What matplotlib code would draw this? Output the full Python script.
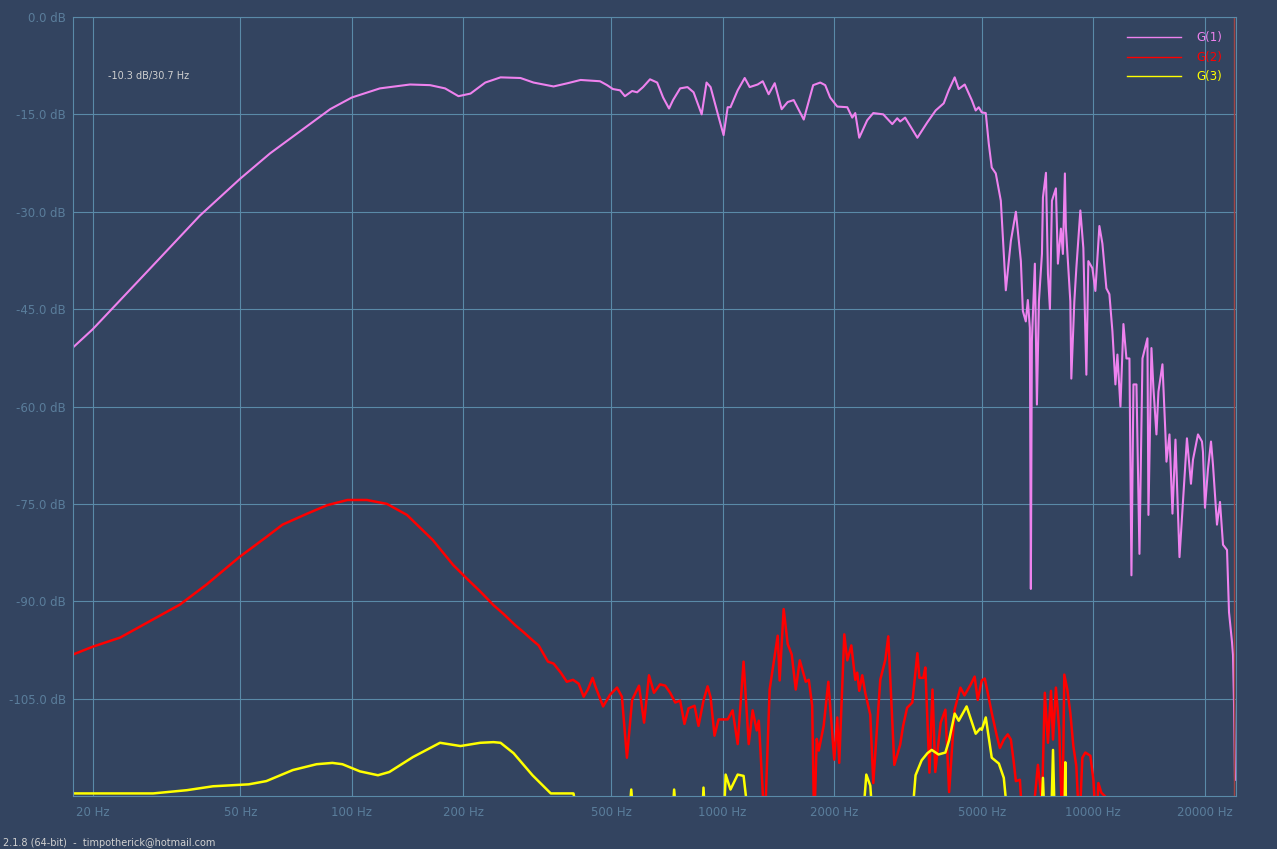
import matplotlib.pyplot as plt

# G(1) - fundamental
g1_freq = [17.7, 20, 28.5, 38.9, 50, 60.2, 72.5, 87.4, 100, 119, 143.5, 162.5, 178.4, 193.9, 208.9,
           229, 251.8, 285, 309, 350, 382, 414, 467, 488, 506, 529, 545, 570, 588, 610, 637, 666,
           691, 717, 735, 768, 804, 835, 878, 905, 928, 969, 1006, 1032, 1050, 1098, 1147, 1183,
           1243, 1283, 1331, 1382, 1443, 1498, 1555, 1655, 1755, 1834, 1891, 1950, 2038, 2169,
           2237, 2279, 2336, 2455, 2549, 2712, 2868, 2958, 3012, 3106, 3352, 3568, 3755, 3948,
           4072, 4226, 4333, 4498, 4699, 4815, 4907, 5000, 5126, 5222, 5320, 5455, 5628, 5806,
           5990, 6180, 6374, 6454, 6573, 6656, 6740, 6782, 6825, 6953, 7042, 7130, 7266, 7311,
           7449, 7495, 7542, 7635, 7731, 7924, 8023, 8174, 8276, 8379, 8431, 8666, 8720, 8885,
           8996, 9223, 9396, 9574, 9693, 9940, 10125, 10380, 10576, 10842, 11046, 11255, 11467,
           11610, 11830, 12052, 12279, 12510, 12667, 12826, 13068, 13313, 13565, 13990, 14077,
           14342, 14520, 14795, 14980, 15357, 15646, 15744, 16041, 16343, 16650, 17072, 17880,
           18333, 18562, 19148, 19630, 19752, 20000, 20378, 20762, 21020, 21548, 21955, 22370,
           22933, 23219, 23655, 23802, 23950, 24099]
g1_db = [-50.9, -48.1, -38.8, -30.6, -24.9, -21.0, -17.6, -14.2, -12.4, -11.0, -10.4, -10.5, -11.0,
         -12.2, -11.8, -10.1, -9.3, -9.4, -10.1, -10.7, -10.2, -9.7, -9.9, -10.5, -11.1, -11.3,
         -12.2, -11.4, -11.6, -10.8, -9.6, -10.1, -12.4, -14.1, -12.8, -11.0, -10.8, -11.6,
         -15.0, -10.1, -10.8, -14.8, -18.2, -13.9, -13.9, -11.3, -9.4, -10.8, -10.4, -9.9,
         -11.9, -10.2, -14.2, -13.1, -12.8, -15.8, -10.5, -10.1, -10.5, -12.4, -13.8, -13.9,
         -15.5, -14.8, -18.6, -15.9, -14.8, -15.0, -16.5, -15.6, -16.1, -15.5, -18.6, -16.2,
         -14.4, -13.3, -11.3, -9.3, -11.1, -10.4, -12.8, -14.4, -13.9, -14.7, -14.8, -19.5,
         -23.2, -24.1, -28.3, -42.1, -34.5, -30.0, -37.6, -45.3, -46.9, -43.6, -47.9, -88.1,
         -50.0, -38.0, -59.7, -43.8, -36.5, -27.8, -24.0, -31.9, -39.6, -45.0, -28.3, -26.4,
         -38.0, -32.6, -36.5, -24.1, -32.5, -43.8, -55.7, -43.8, -38.7, -29.8, -35.6, -55.1,
         -37.6, -38.7, -42.2, -32.2, -34.9, -41.8, -42.7, -48.4, -56.6, -52.0, -60.0, -47.3,
         -52.6, -52.6, -86.0, -56.6, -56.6, -82.7, -52.6, -49.5, -76.7, -51.0, -57.2, -64.3,
         -57.7, -53.5, -64.3, -68.5, -64.3, -76.5, -65.1, -83.2, -64.9, -71.9, -68.2, -64.3,
         -65.4, -67.0, -75.6, -69.6, -65.4, -69.0, -78.2, -74.7, -81.3, -82.1, -91.7, -96.3,
         -98.3, -105.6, -117.5]

# G(2) - second harmonic
g2_freq = [17.7, 20, 23.7, 29.1, 34.4, 40.6, 49.7, 58.8, 65.0, 75.8, 85.8, 97.3, 109.8, 124.3,
           140.8, 165.5, 187.5, 205, 222, 241, 257, 276, 291, 307, 319, 338, 350, 366, 380, 395,
           409, 422, 433, 446, 453, 476, 497, 519, 535, 552, 570, 595, 614, 633, 653, 678, 700,
           722, 745, 768, 789, 809, 840, 861, 888, 911, 928, 951, 975, 1032, 1064, 1098, 1139,
           1176, 1205, 1236, 1252, 1299, 1339, 1408, 1425, 1461, 1498, 1536, 1575, 1615, 1676,
           1708, 1744, 1766, 1794, 1817, 1873, 1928, 2000, 2038, 2063, 2129, 2169, 2224, 2279,
           2307, 2336, 2380, 2425, 2502, 2549, 2580, 2662, 2747, 2798, 2905, 3012, 3068, 3145,
           3248, 3352, 3394, 3479, 3522, 3613, 3682, 3746, 3874, 3989, 4082, 4224, 4380, 4492,
           4670, 4784, 4876, 5000, 5094, 5189, 5320, 5489, 5595, 5733, 5876, 5990, 6102, 6180,
           6336, 6454, 6825, 7086, 7266, 7397, 7542, 7687, 7783, 7924, 8091, 8245, 8348, 8506,
           8666, 8830, 8996, 9166, 9338, 9514, 9815, 10000, 10188, 10316, 10511, 10775, 10977]
g2_db = [-98.2, -97.0, -95.6, -92.8, -90.5, -87.4, -83.2, -80.1, -78.2, -76.5, -75.2, -74.4, -74.4,
         -75.0, -76.7, -80.6, -84.4, -86.6, -88.5, -90.6, -92.0, -93.7, -94.8, -96.0, -96.8,
         -99.3, -99.6, -101.0, -102.4, -102.1, -102.7, -104.7, -103.6, -101.8, -103.0, -106.2,
         -104.4, -103.3, -104.7, -114.1, -105.2, -103.0, -108.7, -101.4, -104.1, -102.8,
         -103.0, -104.1, -105.6, -105.3, -108.9, -106.5, -106.1, -109.2, -105.3, -103.1,
         -104.8, -110.7, -108.2, -108.2, -106.8, -112.0, -99.3, -112.0, -106.8, -109.9,
         -108.4, -125, -103.6, -95.3, -102.2, -91.2, -96.6, -98.2, -103.6, -99.1, -102.4,
         -102.1, -106.1, -125, -111.2, -113.0, -109.2, -102.4, -114.4, -107.9, -114.9, -95.1,
         -99.1, -96.8, -102.1, -101.0, -103.8, -101.4, -104.1, -107.5, -118.0, -113.5, -102.1,
         -99.0, -95.4, -115.2, -112.1, -109.2, -106.4, -105.6, -98.0, -101.8, -101.8, -100.2,
         -116.4, -103.6, -116.3, -108.7, -106.7, -119.4, -106.7, -103.3, -104.5, -102.8,
         -101.6, -105.2, -102.2, -101.9, -104.1, -107.2, -110.7, -112.6, -111.3, -110.5,
         -111.3, -114.9, -117.7, -117.5, -125, -125, -115.2, -121.0, -104.1, -111.8, -103.8,
         -111.3, -103.3, -109.9, -125, -101.3, -103.6, -107.2, -112.3, -115.4, -125, -114.1,
         -113.3, -113.8, -117.5, -125, -118.0, -119.5, -120.1, -125]

# G(3) - third harmonic
g3_freq = [17.7, 29.1, 35.9, 42.2, 52.7, 58.8, 69.3, 80.3, 88.6, 94.3, 105.1, 117.6, 126.2, 146.1,
           172.9, 196.3, 222, 241, 251.8, 273, 307, 344, 396, 414, 556, 567, 578, 729, 740, 755,
           878, 888, 900, 1006, 1019, 1050, 1098, 1139, 1183, 2380, 2441, 2502, 2549, 3227, 3314,
           3442, 3568, 3664, 3823, 3989, 4082, 4226, 4333, 4551, 4815, 4953, 5000, 5126, 5320,
           5560, 5733, 5910, 7221, 7311, 7397, 7687, 7783, 7876, 8348, 8400, 8453]
g3_db = [-119.6, -119.6, -119.1, -118.5, -118.2, -117.7, -116.0, -115.1, -114.9, -115.1, -116.2,
         -116.8, -116.3, -114.0, -111.8, -112.3, -111.8, -111.7, -111.8, -113.4, -116.8, -119.6,
         -119.6, -125, -125, -119.0, -125, -125, -119.0, -125, -125, -118.7, -125, -125, -116.7,
         -119.0, -116.7, -116.9, -125, -125, -116.7, -118.4, -125, -125, -116.8, -114.5, -113.4,
         -112.9, -113.6, -113.3, -111.4, -107.3, -108.4, -106.2, -110.4, -109.6, -109.8, -107.9,
         -114.1, -115.0, -117.2, -125, -125, -117.2, -125, -125, -112.9, -125, -125, -114.8, -125]

x_ticks = [20, 50, 100, 200, 500, 1000, 2000, 5000, 10000, 20000]
x_labels = ['20 Hz', '50 Hz', '100 Hz', '200 Hz', '500 Hz', '1000 Hz', '2000 Hz', '5000 Hz',
            '10000 Hz', '20000 Hz']
y_ticks = [0, -15, -30, -45, -60, -75, -90, -105]
y_labels = ['0.0 dB', '-15.0 dB', '-30.0 dB', '-45.0 dB', '-60.0 dB', '-75.0 dB', '-90.0 dB',
            '-105.0 dB']

bg = '#334460'
grid_col = '#5a8aa8'
label_col = '#5a7d9b'

fig = plt.figure(figsize=(12.77, 8.49), dpi=100, facecolor=bg)
ax = fig.add_axes([0.0572, 0.0624, 0.9107, 0.9176], facecolor=bg)

ax.plot(g1_freq, g1_db, color='#ee82ee', lw=1.5, label='G(1)')
ax.plot(g2_freq, g2_db, color='#ff0000', lw=1.8, label='G(2)')
ax.plot(g3_freq, g3_db, color='#ffff00', lw=1.8, label='G(3)')
ax.axvline(24000, color='#a04545', lw=1)

ax.set_xscale('log')
ax.set_xlim(17.7, 24250)
ax.set_ylim(-120, 0)
ax.set_xticks(x_ticks)
ax.set_xticklabels(x_labels)
ax.set_xticks([], minor=True)
ax.set_yticks(y_ticks)
ax.set_yticklabels(y_labels)
ax.tick_params(length=0, colors=label_col, labelsize=8.5)
ax.tick_params(axis='x', pad=7)
ax.tick_params(axis='y', pad=5)
ax.grid(True, color=grid_col, lw=0.8)
for s in ax.spines.values():
    s.set_color(grid_col)
    s.set_linewidth(0.8)

leg = ax.legend(loc='upper right', frameon=False, fontsize=8.5, handlelength=4.5,
                handletextpad=1.3, labelspacing=0.55, borderaxespad=0.8)
for line, text in zip(leg.get_lines(), leg.get_texts()):
    line.set_linewidth(1)
    text.set_color(line.get_color())

ax.text(0.03, 0.92, '-10.3 dB/30.7 Hz', transform=ax.transAxes, color='#d0d0d0', fontsize=7)
fig.text(0.002, 0.001, '2.1.8 (64-bit)  -  timpotherick@hotmail.com', color='#d0d0d0',
         fontsize=7, va='bottom')

fig.savefig('out.png', dpi=100, facecolor=bg)
